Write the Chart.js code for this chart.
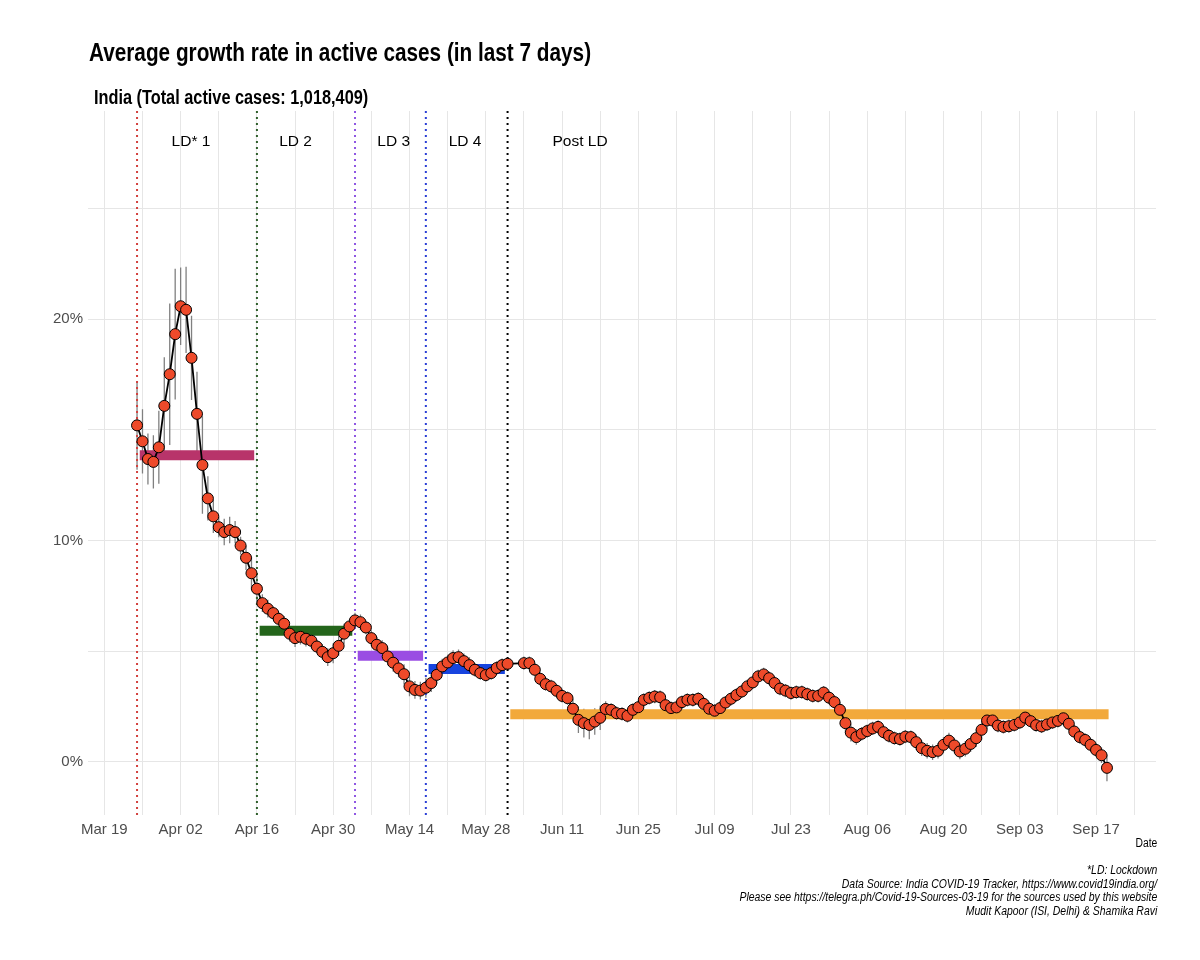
<!DOCTYPE html>
<html>
<head>
<meta charset="utf-8">
<script src="https://cdn.jsdelivr.net/npm/chart.js@4.4.1/dist/chart.umd.min.js"></script>
<style>
html,body{margin:0;padding:0;background:#ffffff;}
#wrap{position:relative;width:1200px;height:960px;overflow:hidden;}
#c{position:absolute;left:0;top:0;}
.t{position:absolute;white-space:nowrap;color:#000;font-family:"Liberation Sans",Arial,sans-serif;}
#title{left:89px;top:40px;font-size:25px;line-height:25px;font-weight:bold;transform:scaleX(0.83);transform-origin:0 0;}
#subtitle{left:94px;top:87px;font-size:20px;line-height:20px;font-weight:bold;transform:scaleX(0.815);transform-origin:0 0;}
#xtitle{right:43px;top:837px;font-size:12px;line-height:12px;transform:scaleX(0.86);transform-origin:100% 0;}
#caption{right:43px;top:864px;font-size:12px;line-height:13.7px;font-style:italic;text-align:right;transform:scaleX(0.87);transform-origin:100% 0;}
</style>
</head>
<body>
<div id="wrap">
<canvas id="c" width="1200" height="960"></canvas>
<div class="t" id="title">Average growth rate in active cases (in last 7 days)</div>
<div class="t" id="subtitle">India (Total active cases: 1,018,409)</div>
<div class="t" id="xtitle">Date</div>
<div class="t" id="caption">*LD: Lockdown<br>Data Source: India COVID-19 Tracker, https://www.covid19india.org/<br>Please see https://telegra.ph/Covid-19-Sources-03-19 for the sources used by this website<br>Mudit Kapoor (ISI, Delhi) &amp; Shamika Ravi</div>
</div>
<script>
// ---------------- DATA ----------------
const originDate = "2020-03-19";

const dates = [
 "2020-03-25","2020-03-26","2020-03-27","2020-03-28","2020-03-29","2020-03-30","2020-03-31",
 "2020-04-01","2020-04-02","2020-04-03","2020-04-04","2020-04-05","2020-04-06","2020-04-07","2020-04-08","2020-04-09","2020-04-10",
 "2020-04-11","2020-04-12","2020-04-13","2020-04-14","2020-04-15","2020-04-16","2020-04-17","2020-04-18","2020-04-19","2020-04-20",
 "2020-04-21","2020-04-22","2020-04-23","2020-04-24","2020-04-25","2020-04-26","2020-04-27","2020-04-28","2020-04-29","2020-04-30",
 "2020-05-01","2020-05-02","2020-05-03","2020-05-04","2020-05-05","2020-05-06","2020-05-07","2020-05-08","2020-05-09","2020-05-10",
 "2020-05-11","2020-05-12","2020-05-13","2020-05-14","2020-05-15","2020-05-16","2020-05-17","2020-05-18","2020-05-19","2020-05-20",
 "2020-05-21","2020-05-22","2020-05-23","2020-05-24","2020-05-25","2020-05-26","2020-05-27","2020-05-28","2020-05-29","2020-05-30","2020-05-31",
 "2020-06-01",
 "2020-06-04","2020-06-05","2020-06-06","2020-06-07","2020-06-08","2020-06-09","2020-06-10","2020-06-11","2020-06-12","2020-06-13",
 "2020-06-14","2020-06-15","2020-06-16","2020-06-17","2020-06-18","2020-06-19","2020-06-20","2020-06-21","2020-06-22","2020-06-23",
 "2020-06-24","2020-06-25","2020-06-26","2020-06-27","2020-06-28","2020-06-29","2020-06-30",
 "2020-07-01","2020-07-02","2020-07-03","2020-07-04","2020-07-05","2020-07-06","2020-07-07","2020-07-08","2020-07-09","2020-07-10",
 "2020-07-11","2020-07-12","2020-07-13","2020-07-14","2020-07-15","2020-07-16","2020-07-17","2020-07-18","2020-07-19","2020-07-20",
 "2020-07-21","2020-07-22","2020-07-23","2020-07-24","2020-07-25","2020-07-26","2020-07-27","2020-07-28","2020-07-29","2020-07-30","2020-07-31",
 "2020-08-01","2020-08-02","2020-08-03","2020-08-04","2020-08-05","2020-08-06","2020-08-07","2020-08-08","2020-08-09","2020-08-10",
 "2020-08-11","2020-08-12","2020-08-13","2020-08-14","2020-08-15","2020-08-16","2020-08-17","2020-08-18","2020-08-19","2020-08-20",
 "2020-08-21","2020-08-22","2020-08-23","2020-08-24","2020-08-25","2020-08-26","2020-08-27","2020-08-28","2020-08-29","2020-08-30","2020-08-31",
 "2020-09-01","2020-09-02","2020-09-03","2020-09-04","2020-09-05","2020-09-06","2020-09-07","2020-09-08","2020-09-09","2020-09-10",
 "2020-09-11","2020-09-12","2020-09-13","2020-09-14","2020-09-15","2020-09-16","2020-09-17","2020-09-18","2020-09-19"
];

// average growth rate (%) in last 7 days
const growthRate = [
 15.20,14.48,13.68,13.55,14.21,16.08,17.51,
 19.32,20.58,20.42,18.25,15.72,13.41,11.90,11.09,10.60,10.38,
 10.47,10.38,9.77,9.22,8.52,7.82,7.17,6.92,6.72,6.46,
 6.24,5.79,5.59,5.65,5.56,5.47,5.21,4.97,4.73,4.91,
 5.24,5.79,6.12,6.39,6.31,6.07,5.59,5.29,5.14,4.76,
 4.48,4.22,3.96,3.41,3.25,3.22,3.35,3.56,3.93,4.31,
 4.49,4.69,4.73,4.55,4.37,4.16,4.01,3.92,4.01,4.24,4.37,
 4.43,
 4.46,4.46,4.16,3.75,3.51,3.41,3.21,2.98,2.88,2.40,
 1.90,1.75,1.67,1.82,1.99,2.39,2.35,2.20,2.17,2.08,
 2.35,2.47,2.80,2.89,2.95,2.92,2.56,
 2.43,2.46,2.70,2.80,2.80,2.85,2.62,2.40,2.31,2.43,
 2.68,2.85,3.02,3.18,3.41,3.59,3.86,3.95,3.78,3.56,
 3.31,3.22,3.11,3.15,3.15,3.06,2.98,2.98,3.13,2.90,2.70,
 2.35,1.75,1.32,1.12,1.27,1.39,1.51,1.58,1.34,1.18,
 1.07,1.03,1.14,1.12,0.89,0.62,0.50,0.44,0.50,0.77,
 0.96,0.74,0.47,0.59,0.81,1.07,1.45,1.87,1.87,1.64,1.58,
 1.61,1.67,1.78,2.00,1.84,1.66,1.60,1.69,1.78,1.85,
 1.97,1.72,1.37,1.12,0.99,0.77,0.54,0.30,-0.27
];

// half length of the error bar (%)
const growthErr = [
 2.00,1.45,1.15,1.20,1.65,2.20,3.20,
 2.95,1.75,1.95,1.90,1.90,2.20,1.00,0.75,0.45,0.60,
 0.60,0.50,0.40,0.55,0.75,0.70,0.40,0.40,0.30,0.30,
 0.35,0.35,0.40,0.35,0.35,0.35,0.30,0.35,0.40,0.45,
 0.45,0.45,0.35,0.35,0.35,0.30,0.35,0.35,0.35,0.40,
 0.40,0.40,0.45,0.45,0.40,0.40,0.45,0.40,0.40,0.35,
 0.35,0.35,0.35,0.35,0.35,0.30,0.30,0.30,0.30,0.30,0.30,
 0.30,
 0.30,0.30,0.30,0.30,0.30,0.30,0.30,0.30,0.30,0.45,
 0.60,0.65,0.65,0.60,0.55,0.35,0.30,0.30,0.30,0.30,
 0.30,0.30,0.30,0.30,0.30,0.30,0.30,
 0.30,0.30,0.30,0.30,0.30,0.30,0.30,0.30,0.30,0.30,
 0.30,0.30,0.30,0.30,0.30,0.30,0.30,0.30,0.30,0.30,
 0.30,0.30,0.30,0.30,0.30,0.30,0.30,0.30,0.30,0.30,0.30,
 0.35,0.45,0.40,0.35,0.30,0.30,0.30,0.30,0.30,0.30,
 0.30,0.30,0.30,0.30,0.35,0.35,0.35,0.35,0.35,0.35,
 0.35,0.35,0.35,0.35,0.35,0.40,0.45,0.40,0.30,0.30,0.30,
 0.30,0.30,0.30,0.30,0.30,0.30,0.30,0.30,0.30,0.30,
 0.30,0.30,0.30,0.30,0.30,0.30,0.30,0.35,0.60
];

// lockdown phases
const phaseNames   = ["LD* 1", "LD 2", "LD 3", "LD 4", "Post LD"];
const phaseStart   = ["2020-03-25", "2020-04-16", "2020-05-04", "2020-05-17", "2020-06-01"]; // dotted lines
const phaseMean    = [13.85, 5.92, 4.79, 4.19, 2.15];  // average growth in the phase (%)
const phaseBarFrom = [6.5, 28.5, 46.5, 59.5, 74.5];    // days since origin
const phaseBarTo   = [27.5, 45.5, 58.5, 73.5, 184.3];
const phaseLabelAt = [15.9, 35.1, 53.1, 66.2, 87.3];   // days since origin
const phaseLabelY  = 28;
const phaseLineColors = ["#d2413e", "#2e5e2a", "#8f57e3", "#2b3fd6", "#000000"];
const phaseBarColors  = ["#b8346a", "#24651b", "#9a4de3", "#1744df", "#f2a93b"];

// axes
const xTickLabels = ["Mar 19","Apr 02","Apr 16","Apr 30","May 14","May 28","Jun 11","Jun 25","Jul 09","Jul 23","Aug 06","Aug 20","Sep 03","Sep 17"];
const yTickValues = [0, 5, 10, 15, 20, 25];
const yTickLabels = {0: "0%", 10: "10%", 20: "20%"};
const xMin = -3, xMax = 193, yMin = -2.4, yMax = 29.4;

// ---------------- BUILD ----------------
const DAY = 86400000;
const t0 = Date.parse(originDate + "T00:00:00Z");
const toDay = s => Math.round((Date.parse(s + "T00:00:00Z") - t0) / DAY);
const days = dates.map(toDay);

const xTicks = [];
for (let v = 0; v <= xMax - 3; v += 7) xTicks.push(v);
const xLabelMap = {};
xTickLabels.forEach((l, i) => { xLabelMap[i * 14] = l; });

const REG = '"Liberation Sans",Arial,sans-serif';

const datasets = [];
// dotted phase start lines
phaseStart.forEach((s, i) => {
  const d = toDay(s);
  datasets.push({
    type: 'line', order: 3,
    data: [{x: d, y: yMin}, {x: d, y: yMax}],
    borderColor: phaseLineColors[i], borderWidth: 2, borderDash: [2, 4],
    pointRadius: 0, fill: false
  });
});
// phase mean bars
phaseMean.forEach((m, i) => {
  datasets.push({
    type: 'line', order: 2,
    data: [{x: phaseBarFrom[i], y: m}, {x: phaseBarTo[i], y: m}],
    borderColor: phaseBarColors[i], borderWidth: 10, borderCapStyle: 'butt',
    pointRadius: 0, fill: false
  });
});
// main series
datasets.push({
  type: 'line', order: 0,
  data: days.map((d, i) => ({x: d, y: growthRate[i]})),
  borderColor: '#000000', borderWidth: 1.8, tension: 0,
  pointRadius: 5.5, pointBackgroundColor: '#ee4a2a', pointBorderColor: '#000000', pointBorderWidth: 1,
  fill: false
});

const overlay = {
  id: 'overlay',
  beforeDatasetsDraw(chart) {
    const {ctx, scales: {x, y}} = chart;
    ctx.save();
    ctx.beginPath();
    ctx.rect(chart.chartArea.left, chart.chartArea.top, chart.chartArea.width, chart.chartArea.height);
    ctx.clip();
    ctx.strokeStyle = '#808080';
    ctx.lineWidth = 1.3;
    ctx.beginPath();
    days.forEach((d, i) => {
      const px = x.getPixelForValue(d);
      ctx.moveTo(px, y.getPixelForValue(growthRate[i] - growthErr[i]));
      ctx.lineTo(px, y.getPixelForValue(growthRate[i] + growthErr[i]));
    });
    ctx.stroke();
    ctx.restore();
  },
  afterDatasetsDraw(chart) {
    const {ctx, scales: {x, y}} = chart;
    ctx.save();
    ctx.fillStyle = '#000';
    ctx.font = '15.5px ' + REG;
    ctx.textAlign = 'center';
    ctx.textBaseline = 'middle';
    phaseNames.forEach((n, i) => {
      ctx.fillText(n, x.getPixelForValue(phaseLabelAt[i]), y.getPixelForValue(phaseLabelY));
    });
    ctx.restore();
  }
};

new Chart(document.getElementById('c'), {
  data: { datasets },
  plugins: [overlay],
  options: {
    responsive: false, animation: false, devicePixelRatio: 1,
    layout: { padding: { left: 0, top: 111, right: 44, bottom: 115 } },
    plugins: { legend: { display: false }, tooltip: { enabled: false } },
    scales: {
      x: {
        type: 'linear', min: xMin, max: xMax,
        afterBuildTicks: s => { s.ticks = xTicks.map(v => ({value: v})); },
        afterFit: s => { s.height = 30; },
        ticks: {
          autoSkip: false, maxRotation: 0, padding: 6,
          color: '#4d4d4d', font: { family: REG, size: 15 },
          callback: v => xLabelMap[v] || ''
        },
        grid: { color: '#e6e6e6', lineWidth: 1, drawTicks: false },
        border: { display: false }
      },
      y: {
        type: 'linear', min: yMin, max: yMax,
        afterBuildTicks: s => { s.ticks = yTickValues.map(v => ({value: v})); },
        afterFit: s => { s.width = 88; },
        ticks: {
          padding: 5, color: '#4d4d4d', font: { family: REG, size: 15 },
          callback: v => yTickLabels[v] || ''
        },
        grid: { color: '#e6e6e6', lineWidth: 1, drawTicks: false },
        border: { display: false }
      }
    }
  }
});
</script>
</body>
</html>
